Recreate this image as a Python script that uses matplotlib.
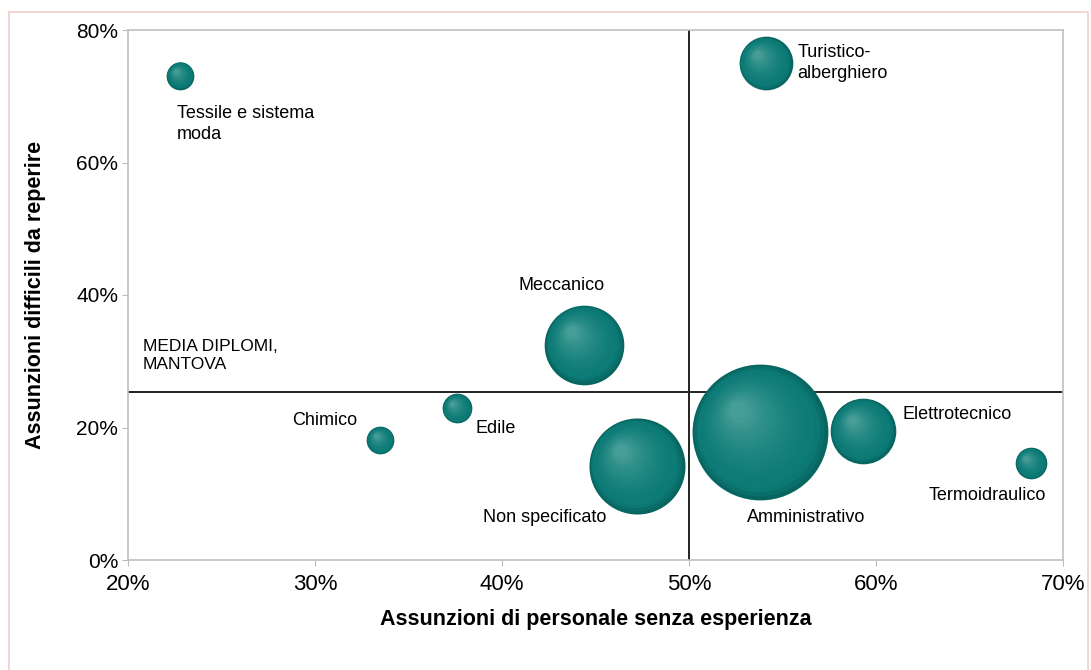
import matplotlib.pyplot as plt
import matplotlib.transforms as mtransforms
from matplotlib.patches import Rectangle
from matplotlib.ticker import FuncFormatter
import numpy as np

plt.rcParams['font.family'] = ['Liberation Sans', 'DejaVu Sans']

# ---------------------------------------------------------------------------
# dati: settori, % senza esperienza, % difficili da reperire, assunzioni
# ---------------------------------------------------------------------------
settori = ['Tessile e sistema\nmoda', 'Turistico-\nalberghiero', 'Meccanico',
           'Chimico', 'Edile', 'Non specificato', 'Amministrativo',
           'Elettrotecnico', 'Termoidraulico']
senza_esperienza = [22.8, 54.1, 44.4, 33.5, 37.6, 47.2, 53.8, 59.3, 68.3]
difficili = [73.1, 75.0, 32.5, 18.1, 22.9, 14.2, 19.3, 19.5, 14.6]
assunzioni = [20, 75, 165, 20, 23, 240, 480, 112, 26]

media_esperienza = 50.0
media_difficili = 25.3
media_label = 'MEDIA DIPLOMI,\nMANTOVA'

x_ticks = [20, 30, 40, 50, 60, 70]
y_ticks = [0, 20, 40, 60, 80]

# posizione delle etichette (x, y, allineamento)
label_pos = [(22.6, 68.7, 'left', 'top'), (55.8, 77.9, 'left', 'top'),
             (43.2, 41.5, 'center', 'center'), (28.8, 21.1, 'left', 'center'),
             (38.6, 19.9, 'left', 'center'), (39.0, 6.4, 'left', 'center'),
             (53.1, 6.4, 'left', 'center'), (61.4, 21.9, 'left', 'center'),
             (62.8, 9.8, 'left', 'center')]

fig = plt.figure(figsize=(10.91, 6.70), dpi=100)
ax = fig.add_axes([128 / 1091, 110 / 670, 935 / 1091, 530 / 670])

# cornice esterna rosata
fig.patches.append(Rectangle((9 / 1091, -0.05), 1079 / 1091, 1.05 - 12 / 670,
                             transform=fig.transFigure, fill=False,
                             edgecolor='#f4cccc', lw=1.2))

# bolle con sfumatura radiale (scuro sul bordo, chiaro in alto a sinistra)
k = 3.10  # px di raggio per sqrt(assunzioni)
edge = np.array([0.03, 0.40, 0.38])
body = np.array([0.05, 0.48, 0.46])
light = np.array([0.28, 0.62, 0.60])
n_layers = 20
for x, y, a in zip(senza_esperienza, difficili, assunzioni):
    r_px = k * np.sqrt(a)
    for i in range(n_layers):
        t = i / (n_layers - 1)
        rr = r_px * (1 - 0.88 * t)
        # sposta il centro verso il punto di luce
        off = (r_px - rr) * 0.38 * 72 / 100
        tr = mtransforms.offset_copy(ax.transData, fig=fig, x=-off, y=off, units='points')
        if t < 0.12:
            col = edge + (body - edge) * (t / 0.12)
        else:
            u = (t - 0.12) / 0.88
            col = body + (light - body) * u ** 1.6
        s = (2 * rr * 72 / 100) ** 2
        ax.scatter([x], [y], s=s, color=col, transform=tr, lw=0, zorder=3 + i * 0.01)

# linee delle medie
ax.axhline(media_difficili, color='#222222', lw=1.4, zorder=2)
ax.axvline(media_esperienza, color='#222222', lw=1.4, zorder=2)
ax.text(20.8, 33.4, media_label, ha='left', va='top', fontsize=12.5, linespacing=1.3)

for name, (lx, ly, ha, va) in zip(settori, label_pos):
    ax.text(lx, ly, name, ha=ha, va=va, fontsize=13, linespacing=1.3, zorder=5)

ax.set_xlim(20, 70)
ax.set_ylim(0, 80)
ax.set_xticks(x_ticks)
ax.set_yticks(y_ticks)
pct = FuncFormatter(lambda v, p: f'{v:.0f}%')
ax.xaxis.set_major_formatter(pct)
ax.yaxis.set_major_formatter(pct)
ax.tick_params(axis='x', labelsize=16, length=4, color='#bbbbbb', pad=6)
ax.tick_params(axis='y', labelsize=15, length=4, color='#bbbbbb', pad=3)
for sp in ax.spines.values():
    sp.set_color('#c0c0c0')
    sp.set_linewidth(1.2)

ax.set_xlabel('Assunzioni di personale senza esperienza', fontsize=15.5,
              fontweight='bold', labelpad=10)
ax.set_ylabel('Assunzioni difficili da reperire', fontsize=15.5,
              fontweight='bold', labelpad=22)

fig.savefig('out.png', dpi=100)
